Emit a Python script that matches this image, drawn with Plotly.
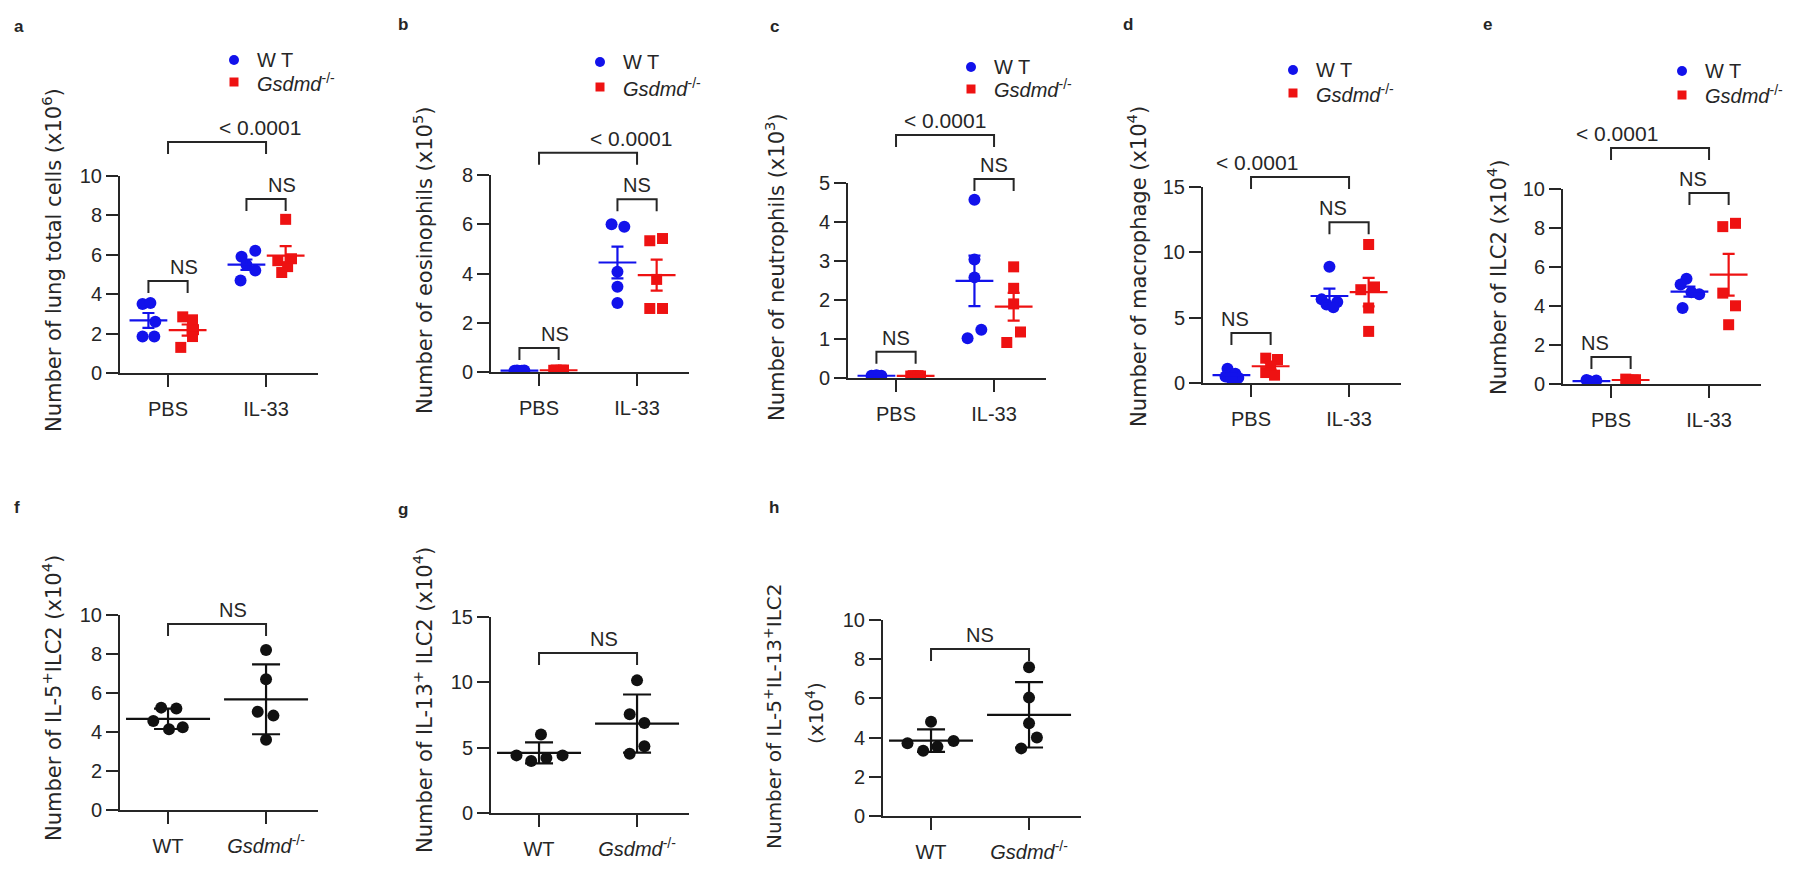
import numpy as np
import plotly.graph_objects as go

# ---------------- data ----------------
top_groups = ['PBS', 'IL-33']
bottom_groups = ['WT', '<i>Gsdmd</i><sup>-/-</sup>']
legend_names = ['W T', '<i>Gsdmd</i><sup>-/-</sup>']

# a: lung total cells (x10^6)
a_wt_pbs = [3.50, 3.55, 2.60, 1.85, 1.85]
a_ko_pbs = [2.85, 2.70, 2.20, 1.85, 1.30]
a_wt_il33 = [6.20, 5.90, 5.50, 5.20, 4.70]
a_ko_il33 = [7.80, 5.80, 5.70, 5.40, 5.10]

# b: eosinophils (x10^5)
b_wt_pbs = [0.05, 0.06, 0.04, 0.05, 0.06]
b_ko_pbs = [0.07, 0.08, 0.06, 0.07, 0.08]
b_wt_il33 = [6.00, 5.90, 4.07, 3.46, 2.80]
b_ko_il33 = [5.33, 5.42, 3.76, 2.58, 2.58]

# c: neutrophils (x10^3)
c_wt_pbs = [0.06, 0.05, 0.07, 0.05, 0.06]
c_ko_pbs = [0.05, 0.06, 0.05, 0.06, 0.05]
c_wt_il33 = [4.57, 3.04, 2.58, 1.02, 1.24]
c_ko_il33 = [2.85, 2.30, 1.90, 1.18, 0.91]

# d: macrophage (x10^4)
d_wt_pbs = [1.10, 0.70, 0.50, 0.40, 0.30]
d_ko_pbs = [1.90, 1.80, 1.30, 0.80, 0.60]
d_wt_il33 = [8.90, 6.40, 6.20, 6.00, 5.80]
d_ko_il33 = [10.60, 7.35, 7.14, 5.74, 3.95]

# e: ILC2 (x10^4)
e_wt_pbs = [0.20, 0.15, 0.10, 0.12, 0.18]
e_ko_pbs = [0.25, 0.20, 0.15, 0.20, 0.22]
e_wt_il33 = [5.40, 5.10, 4.70, 4.60, 3.90]
e_ko_il33 = [8.24, 8.07, 4.66, 4.01, 3.04]

# f: IL-5+ ILC2 (x10^4)
f_wt = [5.25, 5.20, 4.56, 4.14, 4.24]
f_ko = [8.20, 6.70, 5.04, 4.84, 3.60]
# g: IL-13+ ILC2 (x10^4)
g_wt = [6.00, 4.41, 3.98, 4.21, 4.41]
g_ko = [10.15, 7.55, 6.89, 5.10, 4.54]
# h: IL-5+ IL-13+ ILC2 (x10^4)
h_wt = [4.81, 3.71, 3.33, 3.54, 3.83]
h_ko = [7.59, 6.04, 4.73, 4.00, 3.45]

TOP_SERIES = {
    'a': ([a_wt_pbs, a_wt_il33], [a_ko_pbs, a_ko_il33]),
    'b': ([b_wt_pbs, b_wt_il33], [b_ko_pbs, b_ko_il33]),
    'c': ([c_wt_pbs, c_wt_il33], [c_ko_pbs, c_ko_il33]),
    'd': ([d_wt_pbs, d_wt_il33], [d_ko_pbs, d_ko_il33]),
    'e': ([e_wt_pbs, e_wt_il33], [e_ko_pbs, e_ko_il33]),
}
BOTTOM_SERIES = {'f': (f_wt, f_ko), 'g': (g_wt, g_ko), 'h': (h_wt, h_ko)}

# ---------------- layout / styling ----------------
PAD = 8                      # page body margin around the figure
W, H = 1800 - 2 * PAD, 872 - 2 * PAD   # figure fits the window without scrolling
XR = [0.51, 2.53]
XSPAN = 198
OFF = 0.2
INK = '#262626'
BLUE = 'rgb(18,18,235)'
RED = 'rgb(238,18,18)'
FONT = 'Liberation Sans, Arial, sans-serif'
TFONT = 'DejaVu Sans, sans-serif'

# positions below are window pixels
PANELS = {
    'a': dict(left=120, y0=373, ytop=176, ymax=10, dtick=2),
    'b': dict(left=491, y0=372, ytop=175, ymax=8, dtick=2),
    'c': dict(left=848, y0=378, ytop=183, ymax=5, dtick=1),
    'd': dict(left=1203, y0=383, ytop=187, ymax=15, dtick=5),
    'e': dict(left=1563, y0=384, ytop=189, ymax=10, dtick=2),
    'f': dict(left=120, y0=810, ytop=615, ymax=10, dtick=2),
    'g': dict(left=491, y0=813, ytop=617, ymax=15, dtick=5),
    'h': dict(left=883, y0=816, ytop=620, ymax=10, dtick=2),
}

# horizontal spread of overlapping points (category units)
SPREAD = [-0.05, -0.025, 0.0, 0.025, 0.05]
TOP_JITTER = {
    'a': ([[-0.06, 0.02, 0.07, -0.06, 0.06], [0.09, -0.05, 0.0, 0.09, -0.06]],
          [[-0.05, 0.05, 0.06, 0.05, -0.07], [0.0, 0.06, -0.08, 0.02, -0.04]]),
    'b': ([SPREAD, [-0.06, 0.07, 0.0, 0.0, 0.0]],
          [SPREAD, [-0.07, 0.06, 0.0, -0.07, 0.06]]),
    'c': ([SPREAD, [0.0, 0.0, 0.0, -0.07, 0.07]],
          [SPREAD, [0.0, 0.0, 0.0, 0.07, -0.07]]),
    'd': ([[-0.04, 0.04, -0.06, 0.07, 0.0], [0.0, -0.08, 0.08, -0.03, 0.04]],
          [[-0.05, 0.07, 0.0, -0.05, 0.04], [0.0, 0.06, -0.08, 0.0, 0.0]]),
    'e': ([SPREAD, [-0.03, -0.09, 0.02, 0.1, -0.07]],
          [SPREAD, [0.07, -0.06, -0.06, 0.07, 0.0]]),
}
BOTTOM_JITTER = {
    'f': ([-0.07, 0.085, -0.15, 0.01, 0.15], [0.0, 0.0, -0.085, 0.075, 0.0]),
    'g': ([0.02, -0.23, -0.08, 0.075, 0.24], [0.0, -0.075, 0.075, 0.075, -0.075]),
    'h': ([0.0, -0.24, -0.08, 0.065, 0.23], [0.0, 0.0, 0.0, 0.08, -0.08]),
}

# title text, centre x, centre y, font size
TITLES = {
    'a': ('Number of lung total cells (x10<sup>6</sup>)', 52, 260, 21),
    'b': ('Number of eosinophils (x10<sup>5</sup>)', 423, 261, 21),
    'c': ('Number of neutrophils (x10<sup>3</sup>)', 775, 267, 21),
    'd': ('Number of macrophage (x10<sup>4</sup>)', 1137, 267, 21),
    'e': ('Number of ILC2 (x10<sup>4</sup>)', 1497, 278, 21),
    'f': ('Number of IL-5<sup>+</sup>ILC2 (x10<sup>4</sup>)', 52, 698, 21),
    'g': ('Number of IL-13<sup>+</sup> ILC2 (x10<sup>4</sup>)', 423, 700, 21),
    'h': ('Number of IL-5<sup>+</sup>IL-13<sup>+</sup>ILC2', 773, 716, 20),
    'h2': ('(x10<sup>4</sup>)', 815, 713, 20),
}
LETTERS = {'a': (19, 27), 'b': (403, 24), 'c': (774, 27), 'd': (1128, 24), 'e': (1487, 25),
           'f': (17, 507), 'g': (403, 509), 'h': (774, 507)}
LEGENDS = {'a': (234, 60, 82), 'b': (600, 62, 87), 'c': (971, 67, 89),
           'd': (1293, 70, 93), 'e': (1682, 71, 95)}
# bracket heights in data units: PBS NS, IL-33 NS, PBS vs IL-33
TOP_BRACKETS = {'a': (4.67, 8.83, 11.73), 'b': (0.97, 7.02, 8.9), 'c': (0.67, 5.1, 6.23),
                'd': (3.83, 12.3, 15.77), 'e': (1.38, 9.8, 12.1)}
BOTTOM_BRACKETS = {'f': 9.54, 'g': 12.24, 'h': 8.52}
LEG = 12


def fx(x):
    return (x - PAD) / W


def fy(y):
    return 1 - (y - PAD) / H


def pix(key, xv, yv):
    p = PANELS[key]
    x = p['left'] + (xv - XR[0]) * XSPAN / (XR[1] - XR[0])
    y = p['y0'] - yv * (p['y0'] - p['ytop']) / p['ymax']
    return x, y


fig = go.Figure()
axes = {}
shapes = []
annotations = []


def txt(x, y, text, size=19, family=FONT, **kw):
    d = dict(x=fx(x), y=fy(y), xref='paper', yref='paper', text=text, showarrow=False,
             font=dict(family=family, size=size, color=INK))
    d.update(kw)
    annotations.append(d)


def bracket(key, x0v, x1v, yv, label, size=20):
    xa, y = pix(key, x0v, yv)
    xb, _ = pix(key, x1v, yv)
    path = 'M {},{} L {},{} L {},{} L {},{}'.format(
        fx(xa), fy(y + LEG), fx(xa), fy(y), fx(xb), fy(y), fx(xb), fy(y + LEG))
    shapes.append(dict(type='path', xref='paper', yref='paper', path=path,
                       line=dict(color=INK, width=2)))
    txt((xa + xb) / 2, y - 1, label, size=size, yanchor='bottom')


for i, key in enumerate('abcdefgh', start=1):
    s = '' if i == 1 else str(i)
    xr, yr = 'x' + s, 'y' + s
    p = PANELS[key]
    common = dict(showgrid=False, zeroline=False, showline=True, linecolor=INK, linewidth=2,
                  ticks='outside', ticklen=12, tickwidth=2, tickcolor=INK, layer='below traces',
                  tickfont=dict(family=FONT, size=20, color=INK), fixedrange=True,
                  automargin=False)
    labels = top_groups if key in TOP_SERIES else bottom_groups
    axes['xaxis' + s] = dict(common, domain=[fx(p['left']), fx(p['left'] + XSPAN)], range=XR,
                             anchor=yr, tickvals=[1, 2], ticktext=labels, ticklabelstandoff=5)
    axes['yaxis' + s] = dict(common, domain=[fy(p['y0']), fy(p['ytop'])],
                             range=[0, p['ymax']], anchor=xr,
                             tickvals=list(np.arange(0, p['ymax'] + 0.01, p['dtick'])))

    if key in TOP_SERIES:
        wt, ko = TOP_SERIES[key]
        jw, jk = TOP_JITTER[key]
        for series, jit, off, color, symbol, msize in ((wt, jw, -OFF, BLUE, 'circle', 12),
                                                         (ko, jk, OFF, RED, 'square', 11)):
            xs, ys = [], []
            for c, (vals, js) in enumerate(zip(series, jit), start=1):
                xs += [c + off + j for j in js]
                ys += vals
            fig.add_trace(go.Scatter(x=xs, y=ys, xaxis=xr, yaxis=yr, mode='markers',
                                     marker=dict(symbol=symbol, size=msize, color=color),
                                     showlegend=False, hoverinfo='skip'))
            means = [float(np.mean(v)) for v in series]
            sems = [float(np.std(v, ddof=1) / np.sqrt(len(v))) for v in series]
            fig.add_trace(go.Scatter(x=[1 + off, 2 + off], y=means, xaxis=xr, yaxis=yr,
                                     mode='markers', cliponaxis=False,
                                     marker=dict(symbol='line-ew', size=27,
                                                 line=dict(width=2.2, color=color)),
                                     error_y=dict(type='data', array=sems, width=6,
                                                  thickness=2.2, color=color),
                                     showlegend=False, hoverinfo='skip'))
        b1, b2, b3 = TOP_BRACKETS[key]
        bracket(key, 1 - OFF, 1 + OFF, b1, 'NS')
        bracket(key, 2 - OFF, 2 + OFF, b2, 'NS')
        bracket(key, 1, 2, b3, '&lt; 0.0001', size=21)
        lx, ly1, ly2 = LEGENDS[key]
        shapes.append(dict(type='circle', xref='paper', yref='paper', fillcolor=BLUE,
                           line=dict(width=0), x0=fx(lx - 5), x1=fx(lx + 5),
                           y0=fy(ly1 + 5), y1=fy(ly1 - 5)))
        shapes.append(dict(type='rect', xref='paper', yref='paper', fillcolor=RED,
                           line=dict(width=0), x0=fx(lx - 4.5), x1=fx(lx + 4.5),
                           y0=fy(ly2 + 4.5), y1=fy(ly2 - 4.5)))
        txt(lx + 21, ly1, legend_names[0], size=20, xanchor='left', yanchor='middle')
        txt(lx + 21, ly2, legend_names[1], size=20, xanchor='left', yanchor='middle')
    else:
        wt, ko = BOTTOM_SERIES[key]
        jw, jk = BOTTOM_JITTER[key]
        for c, (vals, js) in enumerate(((wt, jw), (ko, jk)), start=1):
            fig.add_trace(go.Scatter(x=[c + j for j in js], y=vals, xaxis=xr, yaxis=yr,
                                     mode='markers', marker=dict(size=12, color='#111'),
                                     showlegend=False, hoverinfo='skip'))
            fig.add_trace(go.Scatter(x=[c], y=[float(np.mean(vals))], xaxis=xr, yaxis=yr,
                                     mode='markers', cliponaxis=False,
                                     marker=dict(symbol='line-ew', size=60,
                                                 line=dict(width=2.2, color='#111')),
                                     error_y=dict(type='data', array=[float(np.std(vals, ddof=1))],
                                                  width=14, thickness=2.2, color='#111'),
                                     showlegend=False, hoverinfo='skip'))
        bracket(key, 1, 2, BOTTOM_BRACKETS[key], 'NS')

    lx, ly = LETTERS[key]
    txt(lx, ly, '<b>' + key + '</b>', size=17, xanchor='center', yanchor='middle')

for key, (t, x, y, size) in TITLES.items():
    txt(x, y, t, size=size, family=TFONT, textangle=-90, xanchor='center', yanchor='middle')

fig.update_layout(width=W, height=H,
                  margin=dict(l=0, r=0, t=0, b=0, pad=0, autoexpand=False),
                  paper_bgcolor='white', plot_bgcolor='white',
                  shapes=shapes, annotations=annotations, showlegend=False, **axes)

fig.write_html("out.html")
